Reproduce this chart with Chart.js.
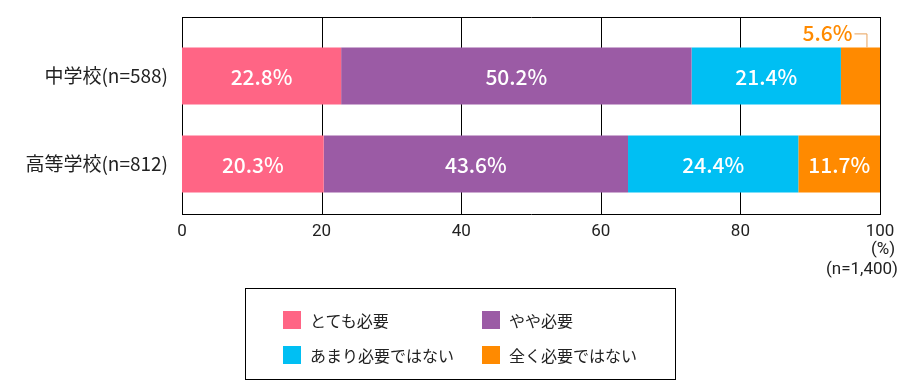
<!DOCTYPE html>
<html><head><meta charset="utf-8">
<script src="https://cdn.jsdelivr.net/npm/chart.js@4/dist/chart.umd.min.js"></script>
<style>
html,body{margin:0;padding:0;background:#fff;}
#wrap{position:relative;width:923px;height:391px;}
#c{position:absolute;left:0;top:0;}
#legend{position:absolute;left:245px;top:288px;width:429px;height:90px;border:1px solid #000;font-family:"Noto Sans CJK JP","Noto Sans",sans-serif;font-size:16px;color:#222;}
.li{position:absolute;display:flex;align-items:center;white-space:nowrap;}
.sw{width:18px;height:18px;margin-right:9px;}
</style></head>
<body><div id="wrap"><canvas id="c" width="923" height="391"></canvas><div id="legend"></div></div>
<script>
const categories = ['中学校(n=588)', '高等学校(n=812)'];
const seriesNames = ['とても必要', 'やや必要', 'あまり必要ではない', '全く必要ではない'];
const seriesColors = ['#FF6585', '#9B5BA5', '#00BFF3', '#FF8A00'];
const veryNecessary = [22.8, 20.3];
const somewhatNecessary = [50.2, 43.6];
const notVeryNecessary = [21.4, 24.4];
const notAtAllNecessary = [5.6, 11.7];
const tickValues = [0, 20, 40, 60, 80, 100];
const unitLabel = '(%)';
const sampleLabel = '(n=1,400)';

const seriesValues = [veryNecessary, somewhatNecessary, notVeryNecessary, notAtAllNecessary];
const FONT = '"Noto Sans CJK JP","Noto Sans",sans-serif';
const NUMFONT = '"Liberation Sans Narrow",Roboto,sans-serif';

// HTML legend
const leg = document.getElementById('legend');
const legPos = [[37,19],[236,19],[37,54],[236,54]];
seriesNames.forEach((n,i)=>{
  const d=document.createElement('div'); d.className='li';
  d.style.left=legPos[i][0]+'px'; d.style.top=legPos[i][1]+'px';
  d.innerHTML='<span class="sw" style="background:'+seriesColors[i]+'"></span><span>'+n+'</span>';
  leg.appendChild(d);
});

const PLOT_TOP = 17, PLOT_BOTTOM = 214;

const framePlugin = {
  id:'frame',
  beforeDatasetsDraw(chart){
    const ctx=chart.ctx, xs=chart.scales.x;
    ctx.save();
    ctx.strokeStyle='#000'; ctx.lineWidth=1;
    tickValues.forEach(v=>{
      const x=Math.round(xs.getPixelForValue(v))+0.5;
      ctx.beginPath(); ctx.moveTo(x,PLOT_TOP); ctx.lineTo(x,PLOT_BOTTOM+1); ctx.stroke();
    });
    const l=Math.round(xs.getPixelForValue(0))+0.5, r=Math.round(xs.getPixelForValue(100))+0.5;
    ctx.beginPath(); ctx.moveTo(l,PLOT_TOP+0.5); ctx.lineTo(r,PLOT_TOP+0.5);
    ctx.moveTo(l,PLOT_BOTTOM+0.5); ctx.lineTo(r,PLOT_BOTTOM+0.5); ctx.stroke();
    ctx.restore();
  },
  afterDraw(chart){
    const ctx=chart.ctx, xs=chart.scales.x;
    ctx.save();
    ctx.fillStyle='#222'; ctx.font='17px '+NUMFONT;
    ctx.textAlign='center'; ctx.textBaseline='middle';
    const x100=xs.getPixelForValue(100);
    ctx.fillText(unitLabel, x100+3, 250);
    ctx.textAlign='right';
    ctx.fillText(sampleLabel, x100+18, 270);
    ctx.restore();
  },
  afterDatasetsDraw(chart){
    const ctx=chart.ctx;
    ctx.save();
    ctx.font='500 21px '+FONT;
    ctx.textBaseline='middle';
    chart.data.datasets.forEach((ds,di)=>{
      chart.getDatasetMeta(di).data.forEach((el,i)=>{
        const v=ds.data[i];
        const label=v.toFixed(1)+'%';
        const w=Math.abs(el.x-el.base);
        if (w>50){
          ctx.fillStyle='#fff'; ctx.textAlign='center';
          ctx.fillText(label,(el.x+el.base)/2,el.y+1);
        } else {
          const top=el.y-el.height/2;
          const cx=(el.x+el.base)/2;
          const ly=top-14;
          ctx.fillStyle=ds.backgroundColor; ctx.textAlign='right';
          ctx.fillText(label,cx-8,ly);
          ctx.strokeStyle='#E9A25A'; ctx.lineWidth=1;
          ctx.beginPath(); ctx.moveTo(cx-6,ly+0.5); ctx.lineTo(cx+6.5,ly+0.5); ctx.lineTo(cx+6.5,top); ctx.stroke();
        }
      });
    });
    ctx.restore();
  }
};

new Chart(document.getElementById('c'),{
  type:'bar',
  data:{
    labels:categories,
    datasets:seriesValues.map((d,i)=>({label:seriesNames[i],data:d,backgroundColor:seriesColors[i],borderWidth:0,barPercentage:0.65,categoryPercentage:1}))
  },
  options:{
    indexAxis:'y',
    responsive:false,animation:false,
    layout:{padding:{top:32,right:43,left:0,bottom:0}},
    plugins:{legend:{display:false},tooltip:{enabled:false}},
    scales:{
      x:{stacked:true,min:0,max:100,
        afterBuildTicks(s){s.ticks=tickValues.map(v=>({value:v}));},
        afterFit(s){s.height=183;},
        grid:{display:false,drawTicks:false},border:{display:false},
        ticks:{padding:14,color:'#222',maxRotation:0,font:{family:NUMFONT,size:17}}},
      y:{stacked:true,
        afterFit(s){s.width=182;},
        grid:{display:false,drawTicks:false},border:{display:false},
        ticks:{padding:14,color:'#222',font:{family:FONT,size:19}}}
    }
  },
  plugins:[framePlugin]
});
</script></body></html>
